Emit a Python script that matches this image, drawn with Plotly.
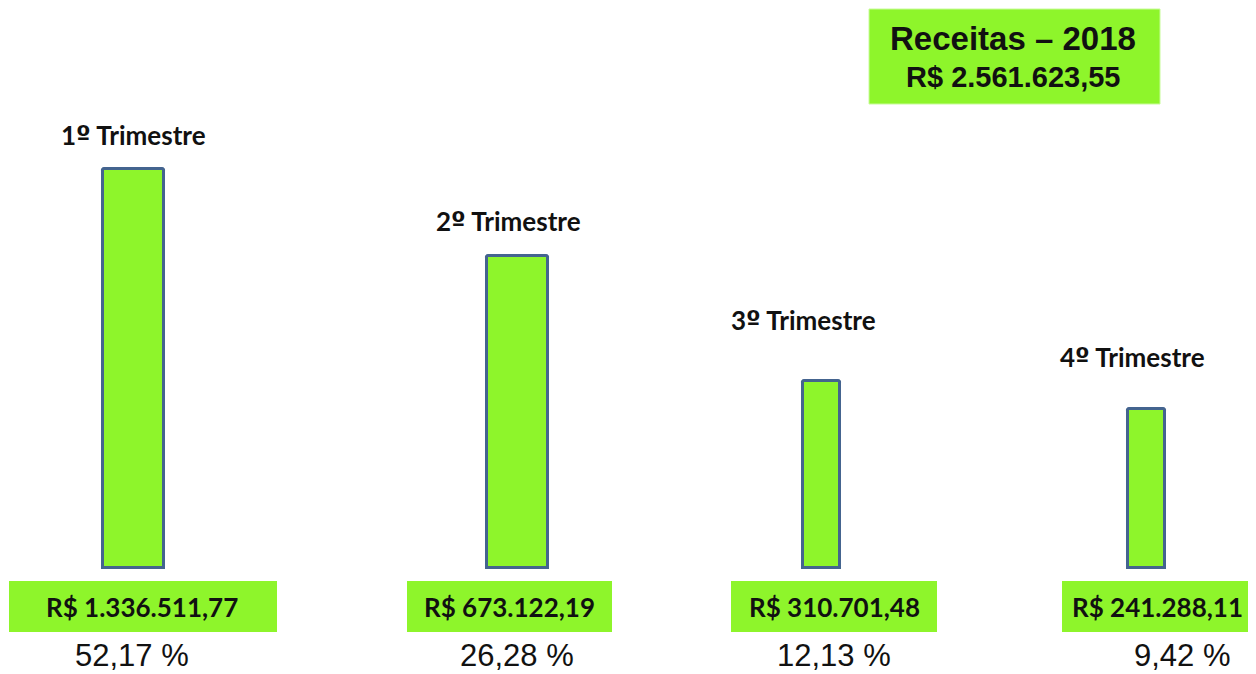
import plotly.graph_objects as go

# ---- data ----
categories = ["1º Trimestre", "2º Trimestre", "3º Trimestre", "4º Trimestre"]
values_text = ["R$ 1.336.511,77", "R$ 673.122,19", "R$ 310.701,48", "R$ 241.288,11"]
percent_text = ["52,17 %", "26,28 %", "12,13 %", "9,42 %"]
bar_heights = [399, 312, 187, 159]  # displayed (schematic) bar heights
title_text = "Receitas – 2018"
total_text = "R$ 2.561.623,55"

# ---- layout constants (page pixel space; y measured upward from bar baseline at pixel 568) ----
W, H = 1256, 674
OFF = 8  # page body margin
FW, FH = W - OFF, H - OFF
BASE = 568
def py(p):
    return BASE - p

bar_x = [133.5, 517.5, 821.5, 1146.5]
bar_w = [61, 61, 37, 37]
label_x = [133, 508, 803, 1132]
label_py = [135, 221, 320, 357]
box_x0 = [9, 407, 731, 1062]
box_x1 = [277, 612, 937, 1262]
box_text_x = [142, 509, 834, 1157]
pct_x = [132, 517, 834, 1182]

GREEN = "#8ef52b"
EDGE = "#44648f"
LBL = "Lato"

def ordinal_label(s):
    head, tail = s.split("º", 1)
    return f"<b>{head}<span style='font-family:DejaVu Sans'>º</span>{tail}</b>"

fig = go.Figure()
fig.add_trace(go.Bar(
    x=bar_x, y=bar_heights, width=bar_w,
    marker=dict(color=GREEN, line=dict(color=EDGE, width=3), cornerradius=2),
    hoverinfo="skip", showlegend=False,
))

shapes = []
annotations = []
for i, cat in enumerate(categories):
    annotations.append(dict(x=label_x[i], y=py(label_py[i]), text=ordinal_label(cat),
                            showarrow=False, xanchor="center", yanchor="middle",
                            font=dict(family=LBL, size=26, color="#111111")))
    shapes.append(dict(type="rect", x0=box_x0[i], x1=box_x1[i], y0=py(632), y1=py(581),
                       fillcolor=GREEN, line=dict(width=0), layer="below"))
    annotations.append(dict(x=box_text_x[i], y=py(607), text=f"<b>{values_text[i]}</b>",
                            showarrow=False, xanchor="center", yanchor="middle",
                            font=dict(family=LBL, size=26, color="#111111")))
    annotations.append(dict(x=pct_x[i], y=py(655), text=percent_text[i],
                            showarrow=False, xanchor="center", yanchor="middle", borderpad=0,
                            font=dict(family="Liberation Sans", size=31, color="#111111")))

shapes.append(dict(type="rect", x0=869, x1=1160, y0=py(104), y1=py(9),
                   fillcolor=GREEN, line=dict(color="#c8fb9a", width=1), layer="below"))
annotations.append(dict(x=1013, y=py(38), text=f"<b>{title_text}</b>", showarrow=False,
                        xanchor="center", yanchor="middle",
                        font=dict(family="Liberation Sans", size=33, color="#111111")))
annotations.append(dict(x=1013, y=py(77), text=f"<b>{total_text}</b>", showarrow=False,
                        xanchor="center", yanchor="middle",
                        font=dict(family="Liberation Sans", size=29, color="#111111")))

fig.update_layout(
    width=FW, height=FH, margin=dict(l=0, r=0, t=0, b=0),
    paper_bgcolor="white", plot_bgcolor="white",
    xaxis=dict(range=[OFF, W], visible=False, fixedrange=True),
    yaxis=dict(range=[BASE - H, BASE - OFF], visible=False, fixedrange=True),
    shapes=shapes, annotations=annotations, bargap=0,
)
fig.write_html("out.html")
